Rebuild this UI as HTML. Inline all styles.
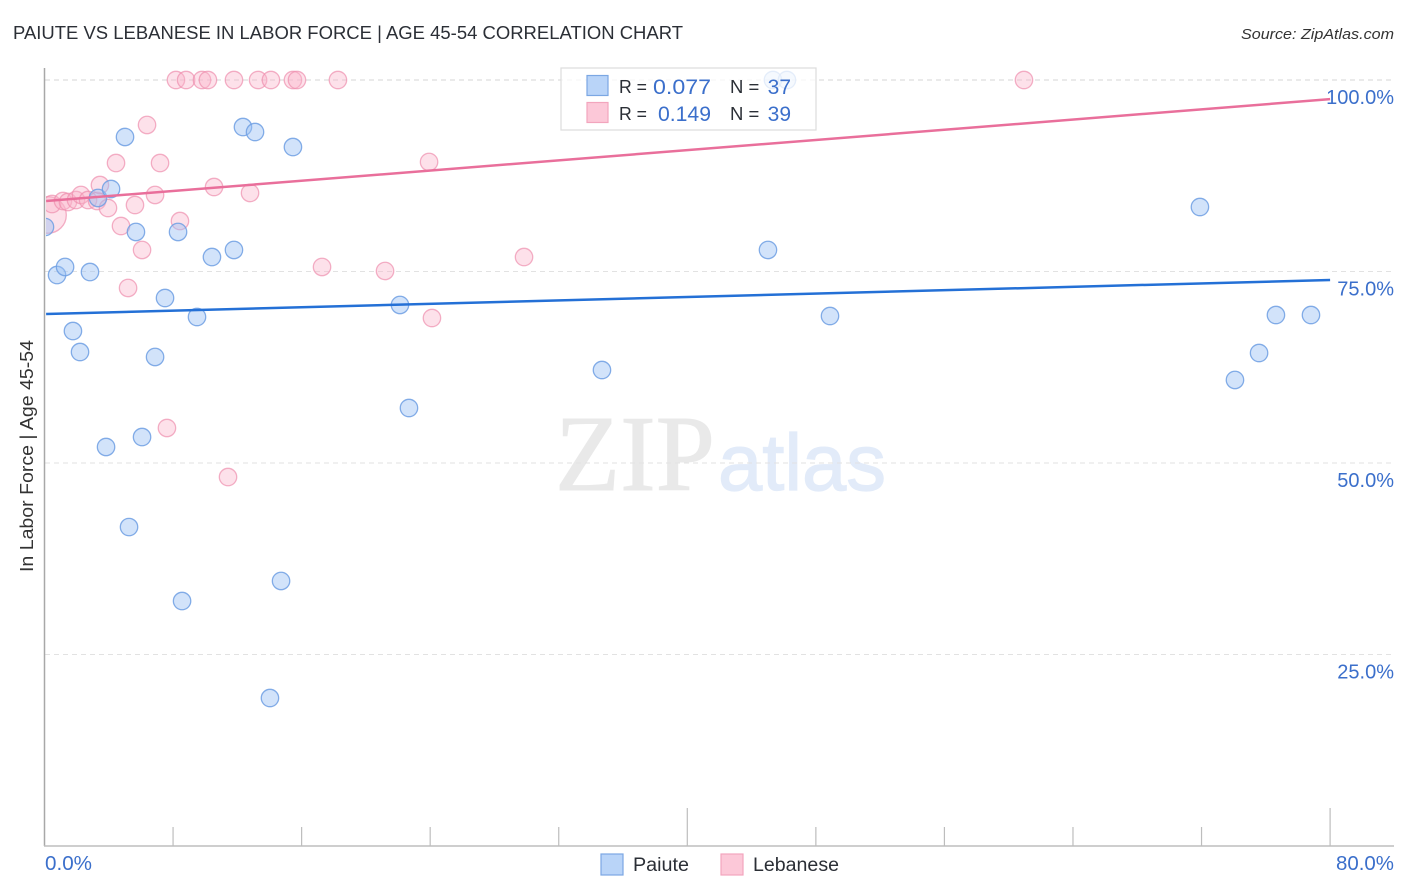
<!DOCTYPE html>
<html>
<head>
<meta charset="utf-8">
<title>Paiute vs Lebanese in Labor Force | Age 45-54 Correlation Chart</title>
<style>
html,body{margin:0;padding:0;background:#fff;width:1406px;height:892px;overflow:hidden}
svg{display:block}
text{font-family:"Liberation Sans",sans-serif}
</style>
</head>
<body>
<svg id="chart" width="1406" height="892" viewBox="0 0 1406 892" xmlns="http://www.w3.org/2000/svg">
  <defs>
    <clipPath id="plot-clip"><rect x="46" y="60" width="1348" height="786"/></clipPath>
  </defs>
  <text x="13" y="39" font-size="18.5" fill="#2b2f36" textLength="670" lengthAdjust="spacingAndGlyphs">PAIUTE VS LEBANESE IN LABOR FORCE | AGE 45-54 CORRELATION CHART</text>
  <text x="1394" y="39" font-size="15" font-style="italic" fill="#333" text-anchor="end" textLength="153" lengthAdjust="spacingAndGlyphs">Source: ZipAtlas.com</text>

  <g>
    <text x="555" y="490" style="font-family:'Liberation Serif',serif" font-size="108" fill="#e9e9e9" stroke="#e9e9e9" stroke-width="1" textLength="160" lengthAdjust="spacingAndGlyphs">ZIP</text>
    <text x="718" y="490" font-size="80" fill="#e2ebf9" stroke="#e2ebf9" stroke-width="1.2" textLength="168" lengthAdjust="spacingAndGlyphs">atlas</text>
  </g>

  <g id="grid"></g>
  <g id="ticks"></g>
  <line x1="44.5" y1="68" x2="44.5" y2="846" stroke="#a8a8a8" stroke-width="1.5"/>
  <line x1="44" y1="846" x2="1394" y2="846" stroke="#bdbdbd" stroke-width="1.5"/>

  <g id="points-lebanese" clip-path="url(#plot-clip)"></g>
  <g id="points-paiute" clip-path="url(#plot-clip)"></g>
  <g id="trends"></g>

  <g id="y-labels"></g>
  <text x="45" y="870" font-size="20" fill="#3b6fcb" textLength="47" lengthAdjust="spacingAndGlyphs">0.0%</text>
  <text x="1394" y="870" font-size="20" fill="#3b6fcb" text-anchor="end" textLength="58" lengthAdjust="spacingAndGlyphs">80.0%</text>
  <text transform="translate(33,456) rotate(-90)" font-size="18.5" fill="#333" text-anchor="middle" textLength="232" lengthAdjust="spacingAndGlyphs">In Labor Force | Age 45-54</text>

  <g>
    <rect x="561" y="68" width="255" height="62" fill="#fff" fill-opacity="0.78" stroke="#dcdcdc" stroke-width="1.2"/>
    <rect x="587" y="75.5" width="21" height="20" fill="#b9d4f8" stroke="#7ba7e3" stroke-width="1.2"/>
    <rect x="587" y="102.5" width="21" height="20" fill="#fcc8d8" stroke="#f2a5bd" stroke-width="1.2"/>
    <text x="619" y="93" font-size="18.5" fill="#2b2f36" textLength="28" lengthAdjust="spacingAndGlyphs">R =</text>
    <text x="653" y="94" font-size="21" fill="#3b6fcb" textLength="58" lengthAdjust="spacingAndGlyphs">0.077</text>
    <text x="730" y="93" font-size="18.5" fill="#2b2f36">N =</text>
    <text x="791" y="94" font-size="21" fill="#3b6fcb" text-anchor="end">37</text>
    <text x="619" y="120" font-size="18.5" fill="#2b2f36" textLength="28" lengthAdjust="spacingAndGlyphs">R =</text>
    <text x="658" y="121" font-size="21" fill="#3b6fcb" textLength="53" lengthAdjust="spacingAndGlyphs">0.149</text>
    <text x="730" y="120" font-size="18.5" fill="#2b2f36">N =</text>
    <text x="791" y="121" font-size="21" fill="#3b6fcb" text-anchor="end">39</text>
  </g>

  <g>
    <rect x="601" y="854" width="22" height="21" fill="#b9d4f8" stroke="#7ba7e3" stroke-width="1.2"/>
    <text x="633" y="871" font-size="19" fill="#2b2f36" textLength="56" lengthAdjust="spacingAndGlyphs">Paiute</text>
    <rect x="721" y="854" width="22" height="21" fill="#fcc8d8" stroke="#f2a5bd" stroke-width="1.2"/>
    <text x="753" y="871" font-size="19" fill="#2b2f36" textLength="86" lengthAdjust="spacingAndGlyphs">Lebanese</text>
  </g>
</svg>
<script>
var xTicks = [8, 16, 24, 32, 40, 48, 56, 64, 72, 80];
var majorTicks = [40, 80];
var yTicks = [100, 75, 50, 25];
var yTickLabels = ["100.0%", "75.0%", "50.0%", "25.0%"];

var paiuteX = [0.03,0.78,1.28,1.77,2.21,2.83,3.33,3.83,4.14,5.01,5.26,5.69,6.07,6.88,7.5,8.31,8.56,9.49,10.42,11.79,12.35,13.1,14.03,14.72,15.46,22.12,22.68,34.69,45.02,45.33,46.2,48.88,71.9,74.08,75.58,76.63,78.81];
var paiuteY = [80.81,74.54,75.59,67.23,64.49,74.93,84.6,52.09,85.77,92.56,41.64,80.16,53.39,63.84,71.54,80.16,31.98,69.06,76.89,77.81,93.86,93.21,19.32,34.6,91.25,70.63,57.18,62.14,77.81,100,100,69.19,83.42,60.84,64.36,69.32,69.32];

var lebaneseX = [0.22,0.47,1.15,1.46,1.96,2.27,2.71,3.27,3.45,3.95,4.45,4.76,5.2,5.63,6.07,6.38,6.88,7.19,7.62,8.18,8.43,8.81,9.8,10.17,10.55,11.42,11.79,12.79,13.29,14.09,15.46,15.71,17.27,18.26,21.19,23.93,24.11,29.84,60.95];
var lebaneseY = [82.38,83.81,84.2,84.07,84.33,84.99,84.33,84.2,86.29,83.29,89.16,80.94,72.85,83.68,77.81,94.13,84.99,89.16,54.57,100,81.59,100,100,100,86.03,48.17,100,85.25,100,100,100,100,75.59,100,75.07,89.3,68.93,76.89,100];
var lebaneseSize = [2.1,1,1,1,1,1,1,1,1,1,1,1,1,1,1,1,1,1,1,1,1,1,1,1,1,1,1,1,1,1,1,1,1,1,1,1,1,1,1];

var trendX = [0.1, 80];
var paiuteTrend = [69.45, 73.89];
var lebaneseTrend = [84.2, 97.5];

var NS = "http://www.w3.org/2000/svg";
function xScale(v) { return 44.5 + v * 16.07; }
function yScale(v) { return 846 - v * 7.66; }
function make(tag, parent, attrs) {
  var el = document.createElementNS(NS, tag);
  for (var k in attrs) el.setAttribute(k, attrs[k]);
  document.getElementById(parent).appendChild(el);
  return el;
}

yTicks.forEach(function (t, i) {
  var g = make("line", "grid", {x1: 45, x2: 1394, y1: yScale(t), y2: yScale(t), stroke: i === 0 ? "#d4d4d4" : "#e2e2e2", "stroke-width": 1, "stroke-dasharray": "5 4"});
  
  
  var l = make("text", "y-labels", {x: 1394, y: yScale(t) + 24, "font-size": 20, fill: "#3b6fcb", "text-anchor": "end"});
  l.textContent = yTickLabels[i];
  
  
});

xTicks.forEach(function (t) {
  var major = majorTicks.indexOf(t) >= 0;
  var tick = make("line", "ticks", {x1: xScale(t), x2: xScale(t), y1: major ? 808 : 827, y2: 846, stroke: "#bdbdbd", "stroke-width": 1.2});
  
  
});

lebaneseX.forEach(function (v, i) {
  var c = make("circle", "points-lebanese", {cx: xScale(v), cy: yScale(lebaneseY[i]), r: 8.7 * lebaneseSize[i], fill: "#f9b4ca", "fill-opacity": 0.4, stroke: "#ee8fae", "stroke-opacity": 0.7, "stroke-width": 1.3});
  
  
});

paiuteX.forEach(function (v, i) {
  var c = make("circle", "points-paiute", {cx: xScale(v), cy: yScale(paiuteY[i]), r: 8.7, fill: "#9cc2f4", "fill-opacity": 0.45, stroke: "#6f9fe3", "stroke-opacity": 0.85, "stroke-width": 1.3});
  
  
});

var pinkLine = make("line", "trends", {x1: xScale(trendX[0]), x2: xScale(trendX[1]), y1: yScale(lebaneseTrend[0]), y2: yScale(lebaneseTrend[1]), stroke: "#e96f9b", "stroke-width": 2.5});


var blueLine = make("line", "trends", {x1: xScale(trendX[0]), x2: xScale(trendX[1]), y1: yScale(paiuteTrend[0]), y2: yScale(paiuteTrend[1]), stroke: "#2470d6", "stroke-width": 2.5});


</script>
</body>
</html>
